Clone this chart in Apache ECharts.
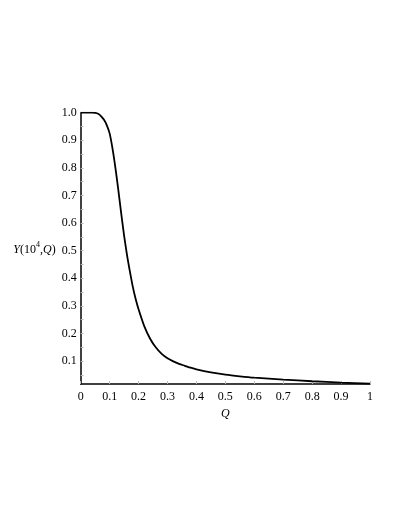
<!DOCTYPE html>
<html>
<head>
<meta charset="utf-8">
<script src="https://cdn.jsdelivr.net/npm/echarts@6/dist/echarts.min.js"></script>
<style>
  html, body { margin: 0; padding: 0; background: #fff; }
  #chart { width: 401px; height: 518px; }
</style>
</head>
<body>
<div id="chart"></div>
<script>
// values
var qValues = [0, 0.02, 0.04, 0.05, 0.06, 0.07, 0.08, 0.09, 0.10, 0.11, 0.12, 0.13, 0.14, 0.15,
  0.16, 0.17, 0.18, 0.19, 0.20, 0.22, 0.24, 0.26, 0.28, 0.30, 0.32, 0.34, 0.36, 0.38, 0.40,
  0.45, 0.50, 0.55, 0.60, 0.70, 0.80, 0.90, 1.00];
var yValues = [1.0, 1.0, 1.0, 0.999, 0.996, 0.988, 0.975, 0.955, 0.925, 0.87, 0.80, 0.72, 0.635, 0.555,
  0.485, 0.425, 0.37, 0.325, 0.288, 0.226, 0.181, 0.149, 0.126, 0.110, 0.099, 0.090, 0.083, 0.076, 0.070,
  0.059, 0.051, 0.045, 0.040, 0.033, 0.027, 0.022, 0.018];
var yLabels = [0.1, 0.2, 0.3, 0.4, 0.5, 0.6, 0.7, 0.8, 0.9, 1.0];
var yTicks = [0.05, 0.1, 0.15, 0.2, 0.25, 0.3, 0.35, 0.4, 0.45, 0.5, 0.55, 0.6, 0.65, 0.7, 0.75, 0.8, 0.85, 0.9, 0.95, 1.0];

var points = qValues.map(function (q, i) { return [q, yValues[i]]; });

var font = "Liberation Serif";
var chart = echarts.init(document.getElementById("chart"));

var option = {
  backgroundColor: "#fff",
  animation: false,
  grid: { left: 80.7, right: 31, top: 112.7, bottom: 134 },
  xAxis: {
    type: "value",
    min: 0,
    max: 1,
    interval: 0.1,
    name: "Q",
    nameLocation: "middle",
    nameGap: 14,
    nameTextStyle: { fontFamily: font, fontSize: 12, fontStyle: "italic", color: "#000" },
    axisLine: { lineStyle: { color: "#000", width: 1.5 } },
    axisTick: { inside: true, length: 3, lineStyle: { color: "#bbb" } },
    axisLabel: { fontFamily: font, fontSize: 12, color: "#000", margin: 7 },
    splitLine: { show: false }
  },
  yAxis: {
    type: "value",
    min: 0.017,
    max: 1,
    name: "{i|Y}{n|(10}{s|4}{n|,}{i|Q}{n|)}",
    nameLocation: "middle",
    nameRotate: 0,
    nameGap: 25,
    nameTextStyle: {
      color: "#000",
      rich: {
        i: { fontFamily: font, fontSize: 12, fontStyle: "italic", color: "#000", lineHeight: 14, verticalAlign: "bottom" },
        n: { fontFamily: font, fontSize: 12, color: "#000", lineHeight: 14, verticalAlign: "bottom" },
        s: { fontFamily: font, fontSize: 8, color: "#000", lineHeight: 14, verticalAlign: "top" }
      }
    },
    axisLine: { show: true, lineStyle: { color: "#000", width: 1.5 } },
    axisTick: { inside: true, length: 3, customValues: yTicks, lineStyle: { color: "#bbb" } },
    axisLabel: {
      fontFamily: font, fontSize: 12, color: "#000", margin: 4,
      customValues: yLabels,
      formatter: function (v) { return v.toFixed(1); }
    },
    splitLine: { show: false }
  },
  series: [{
    type: "line",
    data: points,
    smooth: 0.25,
    showSymbol: false,
    lineStyle: { color: "#000", width: 1.8 }
  }]
};
chart.setOption(option);
</script>
</body>
</html>
